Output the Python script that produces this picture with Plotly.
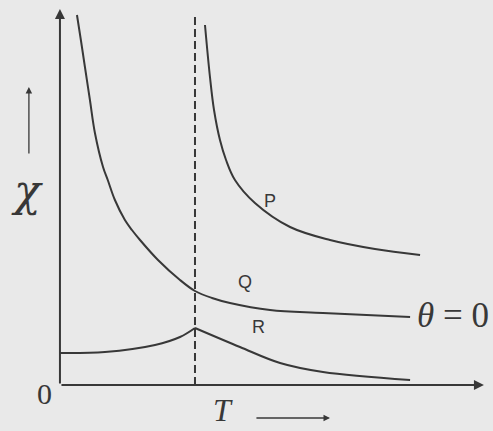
import plotly.graph_objects as go

# Reduced temperature T (T_c = 1) and susceptibility chi (arbitrary units)
T_P = [1.074, 1.111, 1.141, 1.185, 1.230, 1.296, 1.444, 1.704, 2.000, 2.333, 2.667]
chi_P = [3.60, 3.08, 2.75, 2.45, 2.25, 2.05, 1.82, 1.58, 1.45, 1.36, 1.30]

T_Q = [0.126, 0.156, 0.185, 0.222, 0.259, 0.319, 0.354, 0.407, 0.481, 0.533, 0.593, 0.726, 0.889, 1.000, 1.126, 1.259, 1.556, 1.948, 2.593]
chi_Q = [3.70, 3.44, 3.18, 2.85, 2.52, 2.18, 2.05, 1.85, 1.65, 1.55, 1.45, 1.25, 1.05, 0.94, 0.87, 0.82, 0.75, 0.72, 0.68]

T_R_low = [0.000, 0.333, 0.704, 0.889, 1.000]
chi_R_low = [0.32, 0.33, 0.40, 0.48, 0.57]
T_R_high = [1.000, 1.333, 1.630, 1.948, 2.593]
chi_R_high = [0.57, 0.38, 0.22, 0.13, 0.05]

T_c = 1.0
labels = ["P", "Q", "R"]

INK = "#383838"
BG = "#e9e9e9"
line = dict(color=INK, width=2, shape="spline", smoothing=1.0)

fig = go.Figure()
for xs, ys in [(T_P, chi_P), (T_Q, chi_Q), (T_R_low, chi_R_low), (T_R_high, chi_R_high)]:
    fig.add_trace(go.Scatter(x=xs, y=ys, mode="lines", line=line, hoverinfo="skip", showlegend=False))

# dashed line at T_c
fig.add_trace(go.Scatter(x=[T_c, T_c], y=[0, 3.70], mode="lines",
                         line=dict(color=INK, width=2, dash="8px,4px"), showlegend=False))

anns = []
# axes with arrows
anns.append(dict(x=0, y=3.76, ax=0, ay=0, xref="x", yref="y", axref="x", ayref="y",
                 showarrow=True, arrowhead=2, arrowsize=1, arrowwidth=2, arrowcolor=INK, text=""))
anns.append(dict(x=3.14, y=0, ax=0, ay=0, xref="x", yref="y", axref="x", ayref="y",
                 showarrow=True, arrowhead=2, arrowsize=1, arrowwidth=2, arrowcolor=INK, text=""))
# small arrows next to labels
anns.append(dict(x=-0.230, y=2.98, ax=-0.230, ay=2.30, xref="x", yref="y", axref="x", ayref="y",
                 showarrow=True, arrowhead=2, arrowsize=1, arrowwidth=1.3, arrowcolor=INK, text=""))
anns.append(dict(x=2.0, y=-0.33, ax=1.444, ay=-0.33, xref="x", yref="y", axref="x", ayref="y",
                 showarrow=True, arrowhead=2, arrowsize=1, arrowwidth=1.3, arrowcolor=INK, text=""))

serif = "DejaVu Serif"
anns.append(dict(x=-0.244, y=1.95, text="<i>χ</i>", showarrow=False,
                 font=dict(family=serif, size=44, color=INK)))
anns.append(dict(x=-0.111, y=-0.08, text="0", showarrow=False,
                 font=dict(family="Liberation Serif", size=30, color=INK)))
anns.append(dict(x=1.207, y=-0.25, text="<i>T</i>", showarrow=False,
                 font=dict(family="Liberation Serif", size=32, color=INK)))
anns.append(dict(x=2.63, y=0.70, text="<i>θ</i> = 0", showarrow=False, xanchor="left",
                 font=dict(family="Liberation Serif", size=35, color=INK)))

for lab, (tx, ty) in zip(labels, [(1.556, 1.84), (1.370, 1.03), (1.467, 0.58)]):
    anns.append(dict(x=tx, y=ty, text=lab, showarrow=False,
                     font=dict(family="Liberation Sans", size=18, color=INK)))

fig.update_layout(
    width=493, height=431,
    margin=dict(l=0, r=0, t=0, b=0),
    paper_bgcolor=BG, plot_bgcolor=BG,
    xaxis=dict(range=[-0.444, 3.207], visible=False, fixedrange=True),
    yaxis=dict(range=[-0.46, 3.85], visible=False, fixedrange=True),
    annotations=anns,
    showlegend=False,
)

fig.write_html("out.html",
               post_script="document.body.style.margin='0';document.body.style.overflow='hidden';",
               config={"displayModeBar": False})
